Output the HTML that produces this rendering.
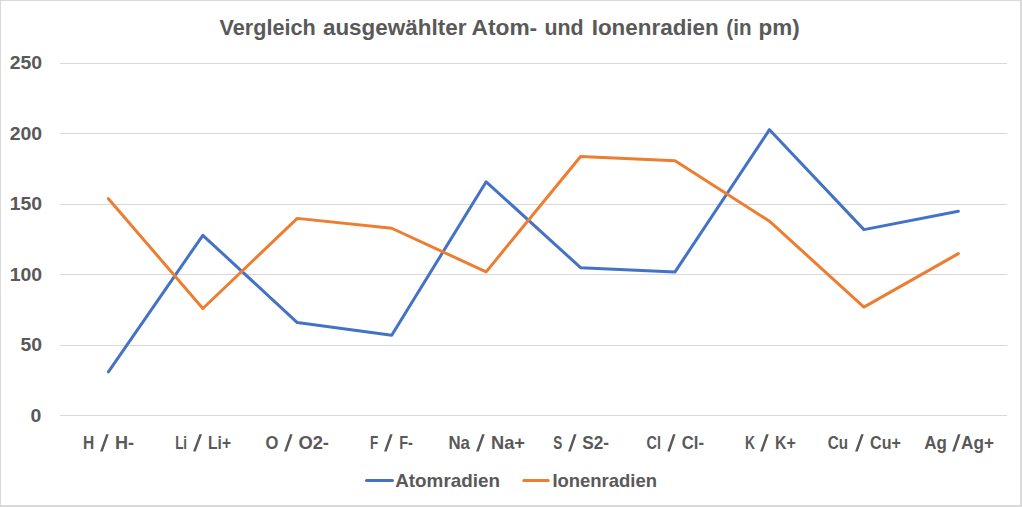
<!DOCTYPE html>
<html><head><meta charset="utf-8"><style>
html,body{margin:0;padding:0;background:#fff;}
#c{position:relative;width:1022px;height:507px;overflow:hidden;background:#fff;}
#b{position:absolute;left:0;top:0;width:1019px;height:504px;border-top:1px solid #d9d9d9;border-left:1px solid #d9d9d9;border-right:2px solid #d9d9d9;border-bottom:2px solid #d9d9d9;}
svg{position:absolute;left:0;top:0;}
text{font-family:"Liberation Sans",sans-serif;font-weight:bold;fill:#595959;}
.ax{font-size:18.1px;}
.ti{font-size:21.6px;}
</style></head><body>
<div id="c"><div id="b"></div>
<svg width="1022" height="507" viewBox="0 0 1022 507">
<rect x="60" y="63" width="947" height="1" fill="#d9d9d9"/>
<rect x="60" y="133" width="947" height="1" fill="#d9d9d9"/>
<rect x="60" y="204" width="947" height="1" fill="#d9d9d9"/>
<rect x="60" y="274" width="947" height="1" fill="#d9d9d9"/>
<rect x="60" y="345" width="947" height="1" fill="#d9d9d9"/>
<rect x="60" y="415" width="947" height="1" fill="#d9d9d9"/>
<text transform="translate(42.1,68.8) scale(1.075,1)" text-anchor="end" class="ax">250</text>
<text transform="translate(42.1,139.8) scale(1.075,1)" text-anchor="end" class="ax">200</text>
<text transform="translate(42.1,209.8) scale(1.075,1)" text-anchor="end" class="ax">150</text>
<text transform="translate(42.1,280.8) scale(1.075,1)" text-anchor="end" class="ax">100</text>
<text transform="translate(42.1,350.8) scale(1.075,1)" text-anchor="end" class="ax">50</text>
<text transform="translate(41.3,421.8) scale(1.075,1)" text-anchor="end" class="ax">0</text>
<text x="82.9" y="449" class="ax" textLength="11.2" lengthAdjust="spacingAndGlyphs">H</text>
<text x="114.9" y="449" class="ax" textLength="19.1" lengthAdjust="spacingAndGlyphs">H-</text>
<polygon points="106.15,434.2 108.75,434.2 102.70,451.6 100.10,451.6" fill="#595959"/>
<text x="175.2" y="449" class="ax" textLength="11.9" lengthAdjust="spacingAndGlyphs">Li</text>
<text x="208.1" y="449" class="ax" textLength="22.9" lengthAdjust="spacingAndGlyphs">Li+</text>
<polygon points="199.40,434.2 202.00,434.2 195.65,451.6 193.05,451.6" fill="#595959"/>
<text x="265.6" y="449" class="ax" textLength="12.9" lengthAdjust="spacingAndGlyphs">O</text>
<text x="298.4" y="449" class="ax" textLength="30.6" lengthAdjust="spacingAndGlyphs">O2-</text>
<polygon points="290.05,434.2 292.65,434.2 286.70,451.6 284.10,451.6" fill="#595959"/>
<text x="369.9" y="449" class="ax" textLength="8.2" lengthAdjust="spacingAndGlyphs">F</text>
<text x="399.2" y="449" class="ax" textLength="13.7" lengthAdjust="spacingAndGlyphs">F-</text>
<polygon points="390.10,434.2 392.70,434.2 386.65,451.6 384.05,451.6" fill="#595959"/>
<text x="448.4" y="449" class="ax" textLength="21.5" lengthAdjust="spacingAndGlyphs">Na</text>
<text x="491.1" y="449" class="ax" textLength="33.9" lengthAdjust="spacingAndGlyphs">Na+</text>
<polygon points="482.15,434.2 484.75,434.2 478.70,451.6 476.10,451.6" fill="#595959"/>
<text x="553.2" y="449" class="ax" textLength="9.0" lengthAdjust="spacingAndGlyphs">S</text>
<text x="582.2" y="449" class="ax" textLength="26.8" lengthAdjust="spacingAndGlyphs">S2-</text>
<polygon points="574.00,434.2 576.60,434.2 570.70,451.6 568.10,451.6" fill="#595959"/>
<text x="646.5" y="449" class="ax" textLength="14.4" lengthAdjust="spacingAndGlyphs">Cl</text>
<text x="681.8" y="449" class="ax" textLength="22.2" lengthAdjust="spacingAndGlyphs">Cl-</text>
<polygon points="673.05,434.2 675.65,434.2 669.85,451.6 667.25,451.6" fill="#595959"/>
<text x="745.1" y="449" class="ax" textLength="10.0" lengthAdjust="spacingAndGlyphs">K</text>
<text x="775.1" y="449" class="ax" textLength="20.7" lengthAdjust="spacingAndGlyphs">K+</text>
<polygon points="766.15,434.2 768.75,434.2 762.70,451.6 760.10,451.6" fill="#595959"/>
<text x="827.8" y="449" class="ax" textLength="20.3" lengthAdjust="spacingAndGlyphs">Cu</text>
<text x="870.1" y="449" class="ax" textLength="30.8" lengthAdjust="spacingAndGlyphs">Cu+</text>
<polygon points="861.15,434.2 863.75,434.2 857.70,451.6 855.10,451.6" fill="#595959"/>
<text x="924.2" y="449" class="ax" textLength="22.6" lengthAdjust="spacingAndGlyphs">Ag</text>
<text x="961.1" y="449" class="ax" textLength="32.9" lengthAdjust="spacingAndGlyphs">Ag+</text>
<polygon points="958.00,434.2 960.60,434.2 954.70,451.6 952.10,451.6" fill="#595959"/>
<polyline points="108.40,371.85 202.84,235.28 297.28,322.57 391.72,335.24 486.16,181.77 580.60,267.66 675.04,271.88 769.48,129.68 863.92,229.64 958.36,211.34" fill="none" stroke="#4472c4" stroke-width="3" stroke-linejoin="round" stroke-linecap="round"/>
<polyline points="108.40,198.67 202.84,308.49 297.28,218.38 391.72,228.24 486.16,271.88 580.60,156.43 675.04,160.65 769.48,221.20 863.92,307.08 958.36,253.58" fill="none" stroke="#ed7d31" stroke-width="3" stroke-linejoin="round" stroke-linecap="round"/>
<text transform="translate(219.5,34.5) scale(1,1.04)" class="ti" textLength="96.2" lengthAdjust="spacingAndGlyphs">Vergleich</text>
<text transform="translate(322.9,34.5) scale(1,1.04)" class="ti" textLength="143.5" lengthAdjust="spacingAndGlyphs">ausgewählter</text>
<text transform="translate(471.5,34.5) scale(1,1.04)" class="ti" textLength="65.7" lengthAdjust="spacingAndGlyphs">Atom-</text>
<text transform="translate(544.5,34.5) scale(1,1.04)" class="ti" textLength="39.2" lengthAdjust="spacingAndGlyphs">und</text>
<text transform="translate(591.7,34.5) scale(1,1.04)" class="ti" textLength="127.0" lengthAdjust="spacingAndGlyphs">Ionenradien</text>
<text transform="translate(726.3,34.5) scale(1,1.04)" class="ti" textLength="25.2" lengthAdjust="spacingAndGlyphs">(in</text>
<text transform="translate(758.6,34.5) scale(1,1.04)" class="ti" textLength="41.1" lengthAdjust="spacingAndGlyphs">pm)</text>
<line x1="366.5" y1="480.5" x2="392.5" y2="480.5" stroke="#4472c4" stroke-width="3" stroke-linecap="round"/>
<text x="395.2" y="487" class="ax" textLength="104.8" lengthAdjust="spacingAndGlyphs">Atomradien</text>
<line x1="523.8" y1="480.5" x2="548.2" y2="480.5" stroke="#ed7d31" stroke-width="3" stroke-linecap="round"/>
<text x="552.4" y="487" class="ax" textLength="104.6" lengthAdjust="spacingAndGlyphs">Ionenradien</text>
</svg></div>
</body></html>
